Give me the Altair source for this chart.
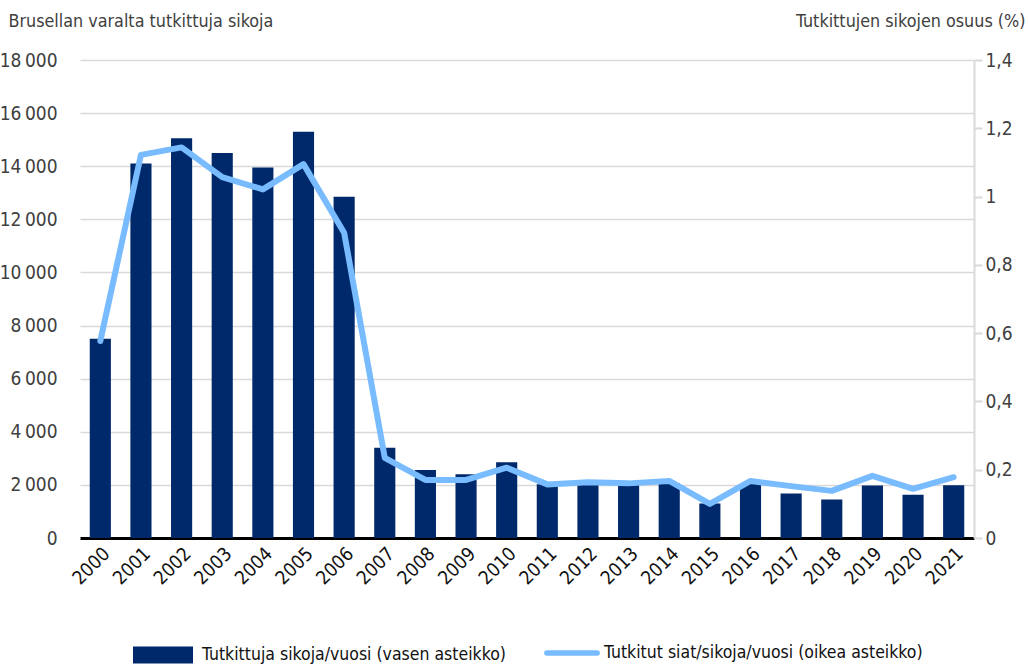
import altair as alt
import pandas as pd

# Annual figures: pigs tested for brucellosis and tested share (%)
years = [str(y) for y in range(2000, 2022)]
tested_pigs = [7500, 14100, 15050, 14500, 13950, 15300, 12850, 3400, 2560, 2400,
               2850, 2020, 2080, 2060, 2060, 1300, 2030, 1680, 1450, 1980, 1630, 1990]
tested_share = [0.577, 1.122, 1.144, 1.057, 1.021, 1.095, 0.894, 0.235, 0.17, 0.17,
                0.206, 0.157, 0.163, 0.16, 0.167, 0.10, 0.167, 0.152, 0.138, 0.182,
                0.144, 0.178]

bar_label = "Tutkittuja sikoja/vuosi (vasen asteikko)"
line_label = "Tutkitut siat/sikoja/vuosi (oikea asteikko)"

df = pd.DataFrame({
    "vuosi": years,
    "sikoja": tested_pigs,
    "osuus": tested_share,
    "sarja_pylvas": bar_label,
    "sarja_viiva": line_label,
})

FONT = "DejaVu Sans Condensed, Liberation Sans, sans-serif"
TEXT = "#404040"
NAVY = "#00296b"
LIGHT = "#78bcff"

x_enc = alt.X(
    "vuosi:O",
    scale=alt.Scale(paddingInner=0.48, paddingOuter=0.24),
    axis=alt.Axis(
        title=None, labelAngle=-45, labelFontSize=19, labelColor="#111111",
        ticks=False, domainColor="#000000", domainWidth=3, labelPadding=6,
        labelFont=FONT,
    ),
)

bars = alt.Chart(df).mark_bar(color=NAVY).encode(
    x=x_enc,
    y=alt.Y(
        "sikoja:Q",
        scale=alt.Scale(domain=[0, 18000], nice=False),
        axis=alt.Axis(
            values=list(range(0, 18001, 2000)),
            labelExpr="replace(format(datum.value, ','), ',', '\u2009')",
            title="Brusellan varalta tutkittuja sikoja",
            titleAngle=0, titleAlign="left", titleBaseline="alphabetic",
            titleX=-72, titleY=-34, titleFontSize=17.8, titleFontWeight="normal",
            titleColor=TEXT, titleFont=FONT,
            labelFontSize=19, labelColor=TEXT, labelFont=FONT, labelPadding=23,
            domain=False, ticks=False, gridColor="#d9d9d9", gridWidth=1.5,
        ),
    ),
    fill=alt.Fill(
        "sarja_pylvas:N",
        scale=alt.Scale(domain=[bar_label], range=[NAVY]),
        legend=alt.Legend(
            title=None, orient="none", legendX=53, legendY=565, padding=0,
            symbolType="M-1,-0.283L1,-0.283L1,0.283L-1,0.283Z",
            symbolSize=3600, symbolStrokeWidth=0, labelOffset=9, labelLimit=0,
            labelFontSize=17.5, labelColor="#111111", labelFont=FONT,
        ),
    ),
)

line = alt.Chart(df).mark_line(
    color=LIGHT, strokeWidth=6, strokeCap="round", strokeJoin="round"
).encode(
    x=x_enc,
    y=alt.Y(
        "osuus:Q",
        scale=alt.Scale(domain=[0, 1.4], nice=False),
        axis=alt.Axis(
            orient="right",
            values=[0, 0.2, 0.4, 0.6, 0.8, 1.0, 1.2, 1.4],
            labelExpr="replace(format(datum.value, '~g'), '.', ',')",
            title="Tutkittujen sikojen osuus (%)",
            titleAngle=0, titleAlign="right", titleBaseline="alphabetic",
            titleX=51, titleY=-34, titleFontSize=17.8, titleFontWeight="normal",
            titleColor=TEXT, titleFont=FONT,
            labelFontSize=19, labelColor=TEXT, labelFont=FONT, labelPadding=3,
            grid=False, domainColor="#d9d9d9", domainWidth=2,
            tickColor="#d9d9d9", tickSize=8, tickWidth=2,
        ),
    ),
    stroke=alt.Stroke(
        "sarja_viiva:N",
        scale=alt.Scale(domain=[line_label], range=[LIGHT]),
        legend=alt.Legend(
            title=None, orient="none", legendX=464, legendY=565, padding=0,
            symbolType="M-0.9,-0.1L0.9,-0.1A0.1,0.1,0,0,1,0.9,0.1L-0.9,0.1A0.1,0.1,0,0,1,-0.9,-0.1Z",
            symbolSize=3136, symbolFillColor=LIGHT, symbolStrokeWidth=0,
            labelOffset=4, labelLimit=0, labelFontSize=17.5, labelColor="#111111",
            labelFont=FONT,
        ),
    ),
)

chart = alt.layer(bars, line).resolve_scale(
    y="independent", fill="independent", stroke="independent"
).properties(
    width=894, height=478,
    autosize=alt.AutoSizeParams(type="none"),
    padding={"left": 80, "top": 60, "right": 54, "bottom": 130},
    background="white",
).configure_view(stroke=None)

chart.save("out.html", embed_options={"renderer": "svg", "actions": False})
